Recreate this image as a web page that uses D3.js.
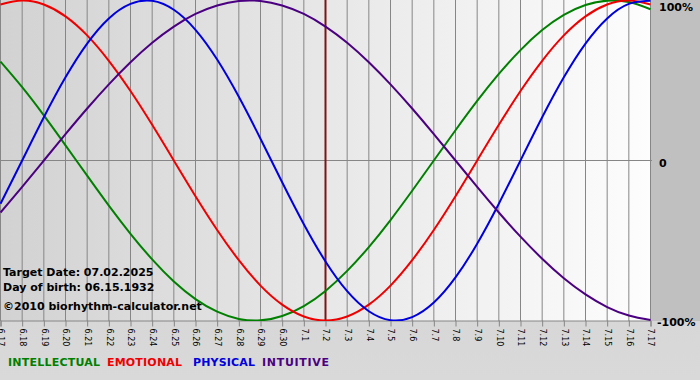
<!DOCTYPE html>
<html><head><meta charset="utf-8">
<script src="https://cdn.jsdelivr.net/npm/d3@7"></script>
<style>
html,body{margin:0;padding:0;background:#d4d4d4;}
svg{display:block;}
text{font-family:"DejaVu Sans",Verdana,sans-serif;}
</style></head>
<body>
<svg id="chart" width="700" height="380"></svg>
<script>
const days = ["6.17","6.18","6.19","6.20","6.21","6.22","6.23","6.24","6.25","6.26","6.27","6.28","6.29","6.30",
  "7.1","7.2","7.3","7.4","7.5","7.6","7.7","7.8","7.9","7.10","7.11","7.12","7.13","7.14","7.15","7.16","7.17"];
const intellectual = [0.618,0.458,0.282,0.095,-0.095,-0.282,-0.458,-0.618,-0.756,-0.866,-0.945,-0.990,-0.999,-0.972,-0.910,
  -0.815,-0.690,-0.541,-0.372,-0.189,0,0.189,0.372,0.541,0.690,0.815,0.910,0.972,0.999,0.990,0.945];
const emotional = [0.975,1,0.975,0.901,0.782,0.623,0.434,0.223,0,-0.223,-0.434,-0.623,-0.782,-0.901,-0.975,
  -1,-0.975,-0.901,-0.782,-0.623,-0.434,-0.223,0,0.223,0.434,0.623,0.782,0.901,0.975,1,0.975];
const physical = [-0.270,0,0.270,0.520,0.731,0.888,0.979,0.998,0.942,0.817,0.631,0.398,0.136,-0.136,-0.398,
  -0.631,-0.817,-0.942,-0.998,-0.979,-0.888,-0.731,-0.520,-0.270,0,0.270,0.520,0.731,0.888,0.979,0.998];
const intuitive = [-0.325,-0.165,0,0.165,0.325,0.476,0.614,0.736,0.837,0.916,0.969,0.997,0.997,0.969,0.916,
  0.837,0.736,0.614,0.476,0.325,0.165,0,-0.165,-0.325,-0.476,-0.614,-0.736,-0.837,-0.916,-0.969,-0.997];
const seriesNames = ["INTELLECTUAL","EMOTIONAL","PHYSICAL","INTUITIVE"];
const seriesColors = ["#008000","#ee0000","#0000dd","#4b0082"];
const yTickValues = [1,0,-1];
const yTickLabels = ["100%","0","-100%"];
const targetDay = "7.2";
const infoLines = ["Target Date: 07.02.2025","Day of birth: 06.15.1932","\u00A92010 biorhythm-calculator.net"];

const svg = d3.select("#chart");
const W = 700, H = 380;
const plot = {left:0, top:0, right:651, bottom:321};

const x = d3.scalePoint().domain(days).range([0.5, 650.5]);
const y = d3.scaleLinear().domain([-1,1]).range([320.5, 0.5]);

const defs = svg.append("defs");
const g1 = defs.append("linearGradient").attr("id","plotbg").attr("x1","0").attr("x2","1").attr("y1","0").attr("y2","0");
g1.append("stop").attr("offset","0").attr("stop-color","#d2d2d2");
g1.append("stop").attr("offset","1").attr("stop-color","#fdfdfd");
const g2 = defs.append("linearGradient").attr("id","botbg").attr("x1","0").attr("x2","0").attr("y1","0").attr("y2","1");
g2.append("stop").attr("offset","0").attr("stop-color","#cdcdcd");
g2.append("stop").attr("offset","1").attr("stop-color","#d9d9d9");
defs.append("clipPath").attr("id","clip").append("rect")
  .attr("x",plot.left).attr("y",plot.top).attr("width",plot.right-plot.left).attr("height",plot.bottom-plot.top);

svg.append("rect").attr("x",0).attr("y",0).attr("width",W).attr("height",H).attr("fill","url(#botbg)");
svg.append("rect").attr("x",plot.right).attr("y",0).attr("width",W-plot.right).attr("height",plot.bottom).attr("fill","#c0c0c0");
svg.append("rect").attr("x",plot.left).attr("y",plot.top).attr("width",plot.right-plot.left).attr("height",plot.bottom-plot.top)
  .attr("fill","url(#plotbg)");

// vertical grid
svg.append("g").selectAll("line").data(days).join("line")
  .attr("x1",d=>x(d)).attr("x2",d=>x(d)).attr("y1",0).attr("y2",plot.bottom)
  .attr("stroke","#868686").attr("stroke-width",1);
// zero line
svg.append("line").attr("x1",0).attr("x2",652).attr("y1",y(0)).attr("y2",y(0))
  .attr("stroke","#868686").attr("stroke-width",1);

// x axis
const xAxis = svg.append("g").attr("transform",`translate(0,${plot.bottom-0.5})`)
  .call(d3.axisBottom(x).tickSize(6).tickPadding(3));
xAxis.select(".domain").attr("stroke","#868686");
xAxis.selectAll(".tick line").attr("stroke","#868686");
xAxis.selectAll(".tick text")
  .attr("transform","rotate(90)").attr("text-anchor","start")
  .attr("x",8).attr("y",0).attr("dy","0.35em")
  .attr("font-family","DejaVu Sans, Verdana, sans-serif").attr("font-size",8).attr("fill","#000");

// target line
svg.append("line").attr("x1",x(targetDay)).attr("x2",x(targetDay)).attr("y1",0).attr("y2",plot.bottom)
  .attr("stroke","#7e1515").attr("stroke-width",2);

// curves
const seriesData = [intellectual, emotional, physical, intuitive];
const line = d3.line().x((d,i)=>x(days[i])).y(d=>y(d)).curve(d3.curveNatural);
svg.append("g").attr("clip-path","url(#clip)").selectAll("path").data(seriesData).join("path")
  .attr("d",d=>line(d)).attr("fill","none")
  .attr("stroke",(d,i)=>seriesColors[i]).attr("stroke-width",2);

// right axis labels
const yLab = svg.append("g").attr("font-size",11).attr("font-weight","bold").attr("fill","#000");
const yOff = [10.5, 6, 5.5];
yLab.selectAll("text").data(yTickValues).join("text")
  .attr("x",(d,i)=> i===2 ? 657 : 659)
  .attr("y",(d,i)=>Math.min(y(d)+yOff[i], 326))
  .text((d,i)=>yTickLabels[i]);

// info text
svg.append("g").attr("font-size",11).attr("font-weight","bold").attr("fill","#000")
  .selectAll("text").data(infoLines).join("text")
  .attr("x",3).attr("y",(d,i)=>[276,291,310][i]).text(d=>d);

// legend (layout: start positions and widths of each label)
const legStarts = [8,107,193,262];
const legWidths = [92,75,62,67];
const leg = svg.append("g").attr("font-size",11).attr("font-weight","bold");
seriesNames.forEach((n,i)=>{
  leg.append("text").attr("x",legStarts[i]).attr("y",366).attr("fill",seriesColors[i])
    .attr("textLength",legWidths[i]).attr("lengthAdjust","spacing").text(n);
});
</script>
</body></html>
